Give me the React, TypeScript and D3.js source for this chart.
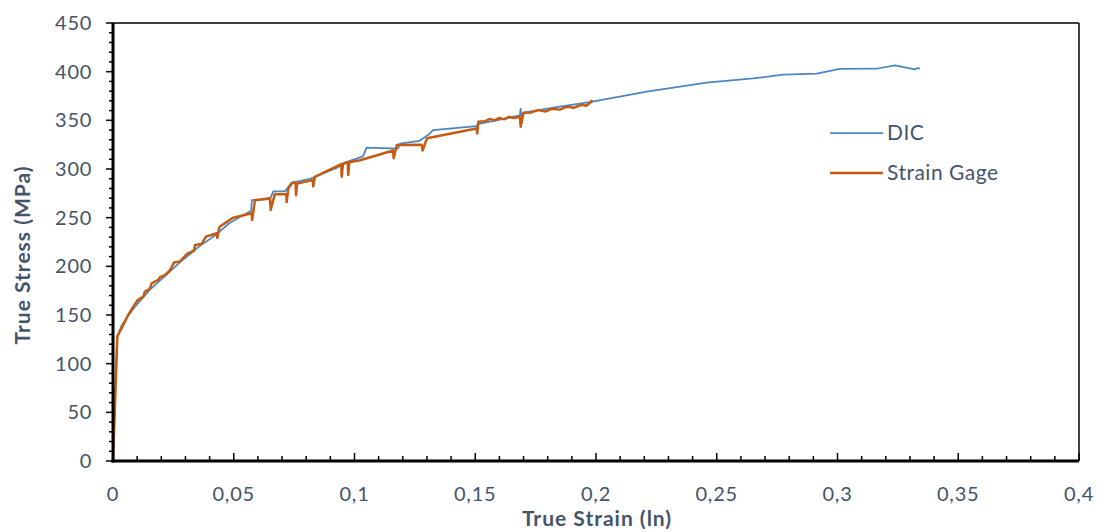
import React from "react";
import * as d3 from "d3";

const W = 1104;
const H = 532;

// DIC series: [true strain, true stress MPa]
const dicStrain = [0, 0.0017, 0.0035, 0.0062, 0.0099, 0.0153, 0.0215, 0.0277, 0.036, 0.043, 0.048, 0.0535, 0.0572, 0.0575, 0.065, 0.0664, 0.0712, 0.074, 0.0816, 0.0926, 0.0954, 0.1035, 0.105, 0.118, 0.1188, 0.127, 0.131, 0.1325, 0.1505, 0.151, 0.1685, 0.1688, 0.169, 0.17, 0.185, 0.198, 0.221, 0.2458, 0.265, 0.2775, 0.2914, 0.301, 0.316, 0.3238, 0.332, 0.3335, 0.334];
const dicStress = [0, 127, 139, 149, 161, 176, 190, 204, 221, 233, 244, 252, 257, 268, 269, 277, 277, 286, 290, 301, 306, 313, 322, 321, 326, 329, 336, 340, 344, 346, 355, 362, 355, 358, 364, 369, 379.5, 388.7, 393, 397, 398, 402.8, 403, 406.5, 402.4, 404, 402.4];

// Strain gage series
const sgStrain = [0, 0.0018, 0.0043, 0.0063, 0.008, 0.0101, 0.0126, 0.0132, 0.0153, 0.016, 0.0188, 0.0195, 0.0215, 0.0236, 0.0253, 0.0277, 0.0308, 0.0335, 0.034, 0.0367, 0.0385, 0.043, 0.0432, 0.0439, 0.0443, 0.0498, 0.0574, 0.0576, 0.0588, 0.065, 0.0653, 0.067, 0.0718, 0.0719, 0.0726, 0.0743, 0.0756, 0.0758, 0.0762, 0.0827, 0.0829, 0.0836, 0.0945, 0.0947, 0.0952, 0.0972, 0.0974, 0.0978, 0.1023, 0.116, 0.1162, 0.1175, 0.1278, 0.1282, 0.13, 0.1505, 0.1508, 0.1513, 0.154, 0.156, 0.158, 0.16, 0.162, 0.164, 0.166, 0.1685, 0.1688, 0.17, 0.173, 0.176, 0.179, 0.182, 0.185, 0.188, 0.191, 0.194, 0.196, 0.198, 0.1983];
const sgStress = [0, 128, 140, 150, 157, 165, 169, 174, 177, 182.5, 186, 189, 191, 196, 204, 205, 213, 216, 222, 223, 230.5, 234, 229, 239, 241, 250, 254.5, 247.6, 268, 270, 258, 274, 274, 266, 280, 286, 286, 273, 285, 288.7, 282, 292, 305, 292, 305, 307, 294, 307, 309, 319, 311, 324.7, 325, 319, 331.5, 341.7, 336.6, 348.6, 349, 351.5, 350, 352.5, 351, 353.5, 352.5, 353.7, 343.5, 357.8, 358, 360.5, 359, 362, 361, 364, 363, 366, 365, 369, 371];

const xTicks = [0, 0.05, 0.1, 0.15, 0.2, 0.25, 0.3, 0.35, 0.4];
const yTicks = [0, 50, 100, 150, 200, 250, 300, 350, 400, 450];
const seriesNames = ["DIC", "Strain Gage"];

const DIC_COLOR = "#4A86C3";
const SG_COLOR = "#C55A11";
const TEXT_COLOR = "#44546A";
const FONT = "Lato, 'Open Sans', sans-serif";

export default function App() {
  const x = d3.scaleLinear().domain([0, 0.4]).range([113, 1079]);
  const y = d3.scaleLinear().domain([0, 450]).range([461, 23]);

  const line = d3
    .line<[number, number]>()
    .x((d) => x(d[0]))
    .y((d) => y(d[1]));

  const dicData: [number, number][] = dicStrain.map((s, i) => [s, dicStress[i]]);
  const sgData: [number, number][] = sgStrain.map((s, i) => [s, sgStress[i]]);

  const xMinor = d3.range(0, 41).map((i) => i / 100);
  const yMinor = d3.range(0, 46).map((i) => i * 10);

  const fmt = (v: number) => String(v).replace(".", ",");

  return (
    <svg width={W} height={H} style={{ position: "absolute", left: 0, top: 0, background: "#fff" }}>
      <rect x={0} y={0} width={W} height={H} fill="#fff" />
      {/* plot border */}
      <line x1={x(0)} x2={x(0.4)} y1={y(450)} y2={y(450)} stroke="#000" strokeWidth={1.5} />
      <line x1={x(0.4)} x2={x(0.4)} y1={y(450)} y2={y(0)} stroke="#000" strokeWidth={1.5} />

      {/* series */}
      <path d={line(dicData) || ""} fill="none" stroke={DIC_COLOR} strokeWidth={1.75} strokeLinejoin="round" />
      <path d={line(sgData) || ""} fill="none" stroke={SG_COLOR} strokeWidth={2.5} strokeLinejoin="round" />

      {/* y axis */}
      {yMinor.map((v) => (
        <line key={"ym" + v} x1={v % 50 === 0 ? 106 : 109} x2={x(0)} y1={y(v)} y2={y(v)} stroke="#000" strokeWidth={1.5} />
      ))}
      <line x1={x(0)} x2={x(0)} y1={y(450)} y2={y(0) + 1.5} stroke="#000" strokeWidth={3} />
      {yTicks.map((v) => (
        <text key={"yt" + v} x={92} y={y(v)} dy="0.35em" textAnchor="end" fontFamily={FONT} fontSize={20} letterSpacing={0.7} fill={TEXT_COLOR}>
          {v}
        </text>
      ))}

      {/* x axis */}
      {xMinor.map((v, i) => (
        <line key={"xm" + i} x1={x(v)} x2={x(v)} y1={y(0)} y2={y(0) - (i % 5 === 0 ? 8 : 5)} stroke="#000" strokeWidth={1.5} />
      ))}
      <line x1={x(0) - 1.5} x2={x(0.4)} y1={y(0)} y2={y(0)} stroke="#000" strokeWidth={3} />
      {xTicks.map((v) => (
        <text key={"xt" + v} x={x(v)} y={501} textAnchor="middle" fontFamily={FONT} fontSize={20} letterSpacing={0.8} fill={TEXT_COLOR}>
          {fmt(v)}
        </text>
      ))}

      {/* axis titles */}
      <text x={597} y={526} textAnchor="middle" fontFamily={FONT} fontSize={21} letterSpacing={1} fontWeight="bold" fill={TEXT_COLOR}>
        True Strain (ln)
      </text>
      <text transform="translate(30,255) rotate(-90)" textAnchor="middle" fontFamily={FONT} fontSize={21} letterSpacing={1} fontWeight="bold" fill={TEXT_COLOR}>
        True Stress (MPa)
      </text>

      {/* legend */}
      {seriesNames.map((name, i) => (
        <g key={name} transform={`translate(830, ${133 + i * 40})`}>
          <line x1={0} x2={53} y1={0} y2={0} stroke={i === 0 ? DIC_COLOR : SG_COLOR} strokeWidth={i === 0 ? 1.75 : 2.5} />
          <text x={57} y={0} dy="0.35em" fontFamily={FONT} fontSize={21} letterSpacing={0.5} fill={TEXT_COLOR}>
            {name}
          </text>
        </g>
      ))}
    </svg>
  );
}
